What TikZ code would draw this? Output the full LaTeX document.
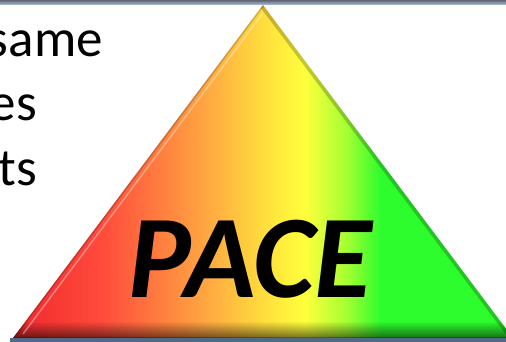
\documentclass[tikz,border=0pt]{standalone}
\usepackage{fontspec}
\setmainfont{Carlito}
\usetikzlibrary{fadings}
\definecolor{cRed}{RGB}{240,40,45}
\definecolor{cRed2}{RGB}{255,75,60}
\definecolor{cOrange}{RGB}{255,165,65}
\definecolor{cYel1}{RGB}{255,232,60}
\definecolor{cYel}{RGB}{255,255,60}
\definecolor{cLime}{RGB}{165,255,50}
\definecolor{cGreen}{RGB}{45,252,45}
\definecolor{topDark}{RGB}{95,100,112}
\definecolor{topLight}{RGB}{165,185,210}
\definecolor{baseLine}{RGB}{80,105,135}
\pgfdeclarehorizontalshading{pace}{100bp}{%
  color(0bp)=(cRed); color(25bp)=(cRed); color(33.9bp)=(cRed2);
  color(44.1bp)=(cOrange); color(51.2bp)=(cYel1); color(54.2bp)=(cYel);
  color(58.3bp)=(cLime); color(61.8bp)=(cGreen); color(100bp)=(cGreen)}
\tikzfading[name=botfade, top color=transparent!100, bottom color=transparent!45]
\tikzset{
  sidetext/.style={font=\fontsize{53}{53}\selectfont, text=black, inner sep=0pt},
  pacetext/.style={font=\fontsize{118}{118}\selectfont\bfseries\itshape, text=black, inner sep=0pt}
}
\begin{document}
\begin{tikzpicture}[x=1pt,y=-1pt]
\useasboundingbox (0,0) rectangle (506,342);
\clip (0,0) rectangle (506,342);
% text at left
\node[sidetext, anchor=base east] (t1) at (103,57) {same};
\node[sidetext, anchor=base east] (t2) at (37,121) {es};
\node[sidetext, anchor=base east] (t3) at (37,185) {ts};
% triangle
\coordinate (apex) at (263,5);
\coordinate (bl) at (13,338);
\coordinate (br) at (513,338);
\shade[shading=pace] (apex) -- (bl) -- (br) -- cycle;
\begin{scope}
  \clip (apex) -- (bl) -- (br) -- cycle;
  \fill[black, path fading=botfade] (0,321) rectangle (520,338);
  \draw[black, opacity=0.22, line width=7pt] (apex) -- (br);
  \draw[black, opacity=0.18, line width=3pt] (apex) -- (bl);
  \draw[white, opacity=0.35, line width=1.6pt] (263,13) -- (23,334);
  \draw[black, opacity=0.25, line width=2pt] (bl) -- (br);
\end{scope}
\node[pacetext, anchor=base] (pace) at (250,297) {PACE};
% border lines
\shade[top color=topDark, bottom color=topLight] (0,0) rectangle (506,4.5);
\fill[baseLine] (10,338) rectangle (506,342);
\end{tikzpicture}
\end{document}
